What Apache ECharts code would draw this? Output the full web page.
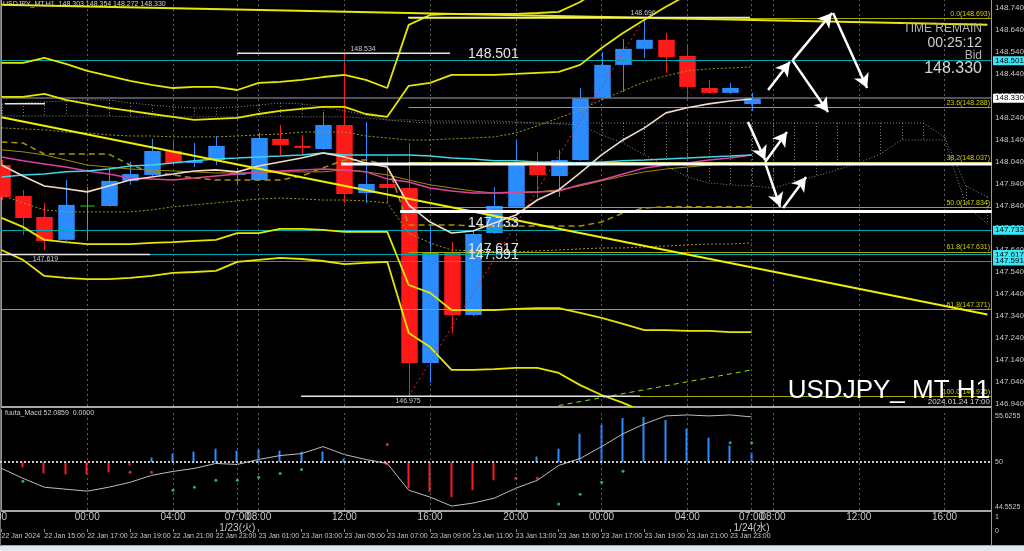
<!DOCTYPE html>
<html><head><meta charset="utf-8">
<script src="https://cdn.jsdelivr.net/npm/echarts@6/dist/echarts.min.js"></script>
<style>html,body{margin:0;padding:0;background:#000;}#c{width:1024px;height:551px;}</style>
</head><body><div id="c"></div>
<script>
// ---------- DATA ----------
// candles: [open, close, low, high], one per hour (index 0 = 22 Jan 13:00 server time)
const candles = [
[148.026,147.881,147.867,148.049],[147.885,147.785,147.708,147.913],[147.790,147.681,147.640,147.854],
[147.686,147.845,147.681,147.958],[147.840,147.840,147.686,147.926],[147.840,147.954,147.836,148.013],
[147.954,147.985,147.936,148.040],[147.981,148.090,147.976,148.145],[148.090,148.035,148.031,148.135],
[148.035,148.045,148.017,148.126],[148.049,148.113,148.026,148.158],[147.981,147.990,147.940,148.013],
[147.958,148.149,147.954,148.172],[148.145,148.117,148.072,148.208],[148.113,148.104,148.072,148.163],
[148.099,148.208,148.095,148.267],[148.208,147.894,147.854,148.534],[147.899,147.940,147.854,148.222],
[147.940,147.922,147.854,148.063],[147.922,147.126,146.975,148.126],[147.126,147.626,147.036,147.754],
[147.626,147.345,147.263,147.676],[147.345,147.713,147.340,147.731],[147.717,147.840,147.713,147.926],
[147.836,148.026,147.831,148.140],[148.022,147.981,147.876,148.086],[147.976,148.049,147.881,148.095],
[148.049,148.331,148.045,148.376],[148.331,148.481,148.326,148.540],[148.481,148.554,148.358,148.599],
[148.554,148.595,148.513,148.696],[148.595,148.517,148.445,148.626],[148.522,148.381,148.322,148.572],
[148.376,148.354,148.349,148.413],[148.354,148.376,148.349,148.399],[148.303,148.330,148.272,148.354]
];
const bandOuterUp = [148.490,148.490,148.513,148.486,148.454,148.431,148.408,148.390,148.376,148.381,148.381,148.367,148.399,148.404,148.413,148.426,148.436,148.413,148.376,148.663,148.708,148.713,148.713,148.713,148.713,148.717,148.722,148.767,148.831,148.913];
const bandInnerUp = [148.336,148.336,148.349,148.322,148.304,148.286,148.272,148.258,148.245,148.231,148.236,148.240,148.258,148.272,148.281,148.290,148.290,148.258,148.245,148.386,148.399,148.436,148.436,148.436,148.440,148.445,148.449,148.481,148.558,148.626,148.686,148.745,148.799,148.845];
const bandInnerLow = [147.786,147.745,147.686,147.676,147.667,147.667,147.667,147.672,147.676,147.681,147.686,147.717,147.717,147.736,147.736,147.731,147.722,147.722,147.722,147.481,147.445,147.367,147.367,147.367,147.372,147.376,147.376,147.354,147.331,147.304,147.276,147.276,147.272,147.272,147.267,147.267];
const bandOuterLow = [147.640,147.595,147.522,147.513,147.508,147.508,147.513,147.522,147.536,147.540,147.545,147.586,147.595,147.604,147.599,147.590,147.576,147.581,147.586,147.263,147.199,147.095,147.095,147.099,147.104,147.104,147.081,147.026,146.981,146.945,146.904,146.876];
const maCyan = [147.972,147.981,147.985,147.995,147.999,148.008,148.022,148.026,148.035,148.045,148.054,148.058,148.063,148.067,148.072,148.081,148.072,148.072,148.072,148.072,148.067,148.058,148.054,148.045,148.045,148.040,148.040,148.035,148.040,148.045,148.049,148.054,148.058,148.063,148.067,148.072];
const maMagenta = [148.063,148.045,148.031,148.017,147.999,147.985,147.967,147.963,147.958,147.967,147.976,147.985,147.995,147.999,148.004,148.008,148.004,147.995,147.963,147.949,147.922,147.908,147.899,147.899,147.904,147.904,147.908,147.936,147.958,147.985,148.013,148.026,148.035,148.049,148.058,148.072];
const maBeige = [148.026,147.976,147.931,147.918,147.904,147.931,147.958,147.972,147.985,147.999,148.004,147.995,148.022,148.040,148.058,148.081,148.063,148.035,148.017,147.845,147.767,147.717,147.726,147.763,147.799,147.867,147.913,147.990,148.072,148.140,148.195,148.263,148.286,148.304,148.317,148.326];
const maOlive = [148.095,148.086,148.072,148.049,148.026,148.017,148.008,148.004,147.999,147.995,147.990,147.990,147.990,147.995,147.995,147.995,148.004,147.995,147.981,147.958,147.936,147.922,147.908,147.899,147.899,147.904,147.913,147.931,147.954,147.976,147.995,148.008,148.017,148.026,148.031,148.035];
const kijun = [148.131,148.126,148.076,148.076,148.076,148.076,148.026,147.995,147.981,147.967,147.958,147.958,147.958,147.958,147.976,148.013,148.049,148.049,148.026,147.754,147.754,147.754,147.749,147.749,147.749,147.749,147.749,147.749,147.767,147.808,147.831,147.836,147.836,147.836,147.836,147.836];
const sigmaUp = [148.195,148.190,148.186,148.176,148.172,148.163,148.158,148.158,148.154,148.154,148.154,148.158,148.163,148.167,148.176,148.176,148.176,148.158,148.149,148.140,148.140,148.145,148.149,148.154,148.172,148.204,148.240,148.276,148.322,148.363,148.404,148.431,148.454,148.463,148.467,148.472];
const sigmaLow = [147.890,147.854,147.822,147.813,147.813,147.813,147.813,147.822,147.836,147.845,147.854,147.863,147.872,147.876,147.872,147.867,147.867,147.863,147.854,147.717,147.672,147.640,147.636,147.631,147.631,147.636,147.640,147.645,147.649,147.649,147.654,147.658,147.663,147.667,147.667,147.672];
const spanA = [148.304,148.308,148.313,148.317,148.322,148.322,148.308,148.299,148.290,148.286,148.286,148.290,148.299,148.308,148.304,148.290,148.272,148.254,148.231,148.222,
148.217,148.217,148.217,148.217,148.217,148.217,148.217,148.217,148.217,148.217,148.217,148.217,148.217,148.217,148.217,148.217,148.217,148.217,148.217,148.217,148.217,148.217,148.217,148.217,148.154,147.931,147.881];
const spanB = [148.249,148.249,148.249,148.249,148.249,148.249,148.245,148.245,148.245,148.245,148.245,148.245,148.245,148.245,148.245,148.245,148.245,148.240,148.231,148.231,
148.226,148.226,148.226,148.226,148.222,148.217,148.213,148.208,148.163,148.126,148.072,148.022,147.972,147.945,147.936,147.931,147.922,147.949,147.976,148.004,148.035,148.076,148.140,148.140,148.140,147.845,147.758];
// trend lines: [startIdx, startPrice, endIdx, endPrice]
const trendDown = [0, 148.243, 46, 147.347];
const trendTop = [0, 148.754, 46, 148.663];
const fibDiag = [19, 146.975, 30, 148.693];
const greenDash = [26, 146.933, 35, 147.095];
// horizontal levels
const cyanLevels = [148.501, 147.733, 147.617, 147.591];
const bidLevel = 148.330;
const fibLevels = [148.693, 148.288, 148.037, 147.834, 147.631, 146.975];
const fibNames = ['0.0', '23.6', '38.2', '50.0', '61.8', '100.0'];
const fibStartIdx = 19;
const fibExtLevel = 147.371;
const whiteThick = [[15.84, 46.2, 148.031], [18.6, 46.2, 147.815]]; // [fromIdx, toIdx, price]
const whiteThin = [[10.99, 20.93, 148.534], [18.97, 34.93, 148.696], [0.16, 2.03, 148.304], [-0.1, 6.93, 147.619], [13.98, 29.8, 146.975]];
// projection arrows [fromIdx, fromPrice, toIdx, toPrice]
const arrows = [
[35.77,148.367,36.79,148.495],[36.93,148.504,38.75,148.717],[38.80,148.717,40.39,148.376],[36.89,148.504,38.57,148.267],
[34.83,148.222,35.63,148.049],[35.63,148.040,36.65,148.176],[35.63,148.036,36.33,147.836],[36.47,147.831,37.54,147.972]
];
// MACD pane
const macdHist = [null,49.37,48.64,48.52,48.52,48.77,49.61,50.57,51.05,51.29,51.65,51.41,51.53,51.41,51.29,51.29,50.45,50.09,49.61,46.84,46.36,45.76,46.60,47.80,49.85,50.69,51.65,53.46,54.54,55.38,55.51,55.14,54.06,52.98,52.01,51.17];
const macdSignal = [49.25,48.04,46.96,46.72,46.48,46.96,47.56,48.40,48.88,49.25,49.85,49.73,50.33,50.81,51.05,51.90,50.93,50.33,49.85,46.60,45.76,44.67,45.03,45.64,46.84,47.80,49.61,50.45,51.90,53.46,54.66,55.63,55.75,55.63,55.75,55.51];
const cyanDots = [[1,47.68],[8,46.60],[9,46.96],[10,47.80],[11,47.80],[12,48.16],[13,48.64],[14,49.13],[26,44.92],[27,46.12],[28,47.56],[29,48.89],[34,52.38],[35,52.38]];
const pinkDots = [[6,48.77],[7,48.77],[18,52.14],[24,48.04],[25,48.04]];
const macdBase = 50;
const macdTicks = [44.5525, 50, 55.6255];
// axis ticks
const priceTicks = [146.94,147.04,147.14,147.24,147.34,147.44,147.54,147.64,147.74,147.84,147.94,148.04,148.14,148.24,148.34,148.44,148.54,148.64,148.74];
const timeTickIdx = [0,4,8,11,12,16,20,24,28,32,35,36,40,44];
const timeTickText = ['00','00:00','04:00','07:00\n1/23(火)','08:00','12:00','16:00','20:00','00:00','04:00','07:00\n1/24(水)','08:00','12:00','16:00'];
const dateTickIdx = [0,2,4,6,8,10,12,14,16,18,20,22,24,26,28,30,32,34];
const dateTickText = ['22 Jan 2024','22 Jan 15:00','22 Jan 17:00','22 Jan 19:00','22 Jan 21:00','22 Jan 23:00','23 Jan 01:00','23 Jan 03:00','23 Jan 05:00','23 Jan 07:00','23 Jan 09:00','23 Jan 11:00','23 Jan 13:00','23 Jan 15:00','23 Jan 17:00','23 Jan 19:00','23 Jan 21:00','23 Jan 23:00'];
// text labels anchored to data: [idx, price, text]
const smallLabelsAbove = [[16.87, 148.534, '148.534'], [29.94, 148.696, '148.696']];
const smallLabelsBelow = [[18.97, 146.975, '146.975'], [2.05, 147.619, '147.619']];
const bigLabels = [[21.77, 148.501, '148.501'], [21.77, 147.733, '147.733'], [21.77, 147.617, '147.617'], [21.77, 147.591, '147.591']];
const header = 'USDJPY_MT,H1  148.303 148.354 148.272 148.330';
const macdHeader = 'fuuta_Macd 52.0859  0.0000';

// ---------- CHART ----------
const X_MIN = -0.07, X_MAX = 46.17;
const BLUE = '#2a8cff', RED = '#ff1a1a', GREEN = '#22cc22';
const chart = echarts.init(document.getElementById('c'));
const ser = (arr) => arr.map((v, i) => [i, v]);
const seg = (a) => [[a[0], a[1]], [a[2], a[3]]];
const lineS = (data, color, width, type, z) => ({
  type: 'line', xAxisIndex: 0, yAxisIndex: 0, data, showSymbol: false, symbol: 'none', silent: true,
  lineStyle: { color, width, type: type || 'solid' }, z: z || 3, clip: true, animation: false
});

const series = [];
// cloud hatch
series.push({
  type: 'custom', xAxisIndex: 0, yAxisIndex: 0, z: 1, clip: true, silent: true,
  data: spanA.map((a, i) => [i, a, spanB[i]]),
  renderItem: (p, api) => {
    const i = api.value(0);
    const p1 = api.coord([i, api.value(1)]), p2 = api.coord([i, api.value(2)]);
    return { type: 'line', shape: { x1: Math.round(p1[0]) + 0.5, y1: p1[1], x2: Math.round(p1[0]) + 0.5, y2: p2[1] },
      style: { stroke: '#7a7a7a', lineWidth: 1, lineDash: [1, 2] } };
  }
});
series.push(lineS(ser(spanA), '#8a8a8a', 1, [1, 2], 1));
series.push(lineS(ser(spanB), '#8a8a8a', 1, [1, 2], 1));

// vertical grid lines main pane + fib + horizontal levels via markLine
const vgridLines = timeTickIdx.slice(1).map(v => ({ xAxis: v }));
const fibMark = fibLevels.map((lv, k) => [
  { coord: [fibStartIdx, lv], lineStyle: { color: '#a8a800', width: 1, type: 'solid' },
    label: { show: true, position: 'insideEndTop', formatter: fibNames[k] + '(' + lv.toFixed(3) + ')', color: '#d0d000', fontSize: 7, distance: 1 } },
  { coord: [X_MAX, lv] }
]);
const levelMark = cyanLevels.map(lv => ({
  yAxis: lv, lineStyle: { color: '#00a8b4', width: 1, type: 'solid' },
  label: { show: true, position: 'end', formatter: lv.toFixed(3), color: '#000', backgroundColor: '#3be6f5', fontSize: 8, padding: [1, 2, 0, 2], distance: 2 }
}));
levelMark.push({ yAxis: bidLevel, lineStyle: { color: '#6c6c7c', width: 1.5, type: 'solid' },
  label: { show: true, position: 'end', formatter: bidLevel.toFixed(3), color: '#000', backgroundColor: '#ffffff', fontSize: 8, padding: [1, 2, 0, 2], distance: 2 } });
levelMark.push({ yAxis: fibExtLevel, lineStyle: { color: '#a8a800', width: 1, type: 'solid' },
  label: { show: true, position: 'insideEndTop', formatter: '61.8(' + fibExtLevel.toFixed(3) + ')', color: '#d0d000', fontSize: 7, distance: 1 } });

series.push({
  type: 'line', xAxisIndex: 0, yAxisIndex: 0, data: [[0, 148]], showSymbol: false, silent: true, lineStyle: { opacity: 0 }, z: 2,
  markLine: { silent: true, symbol: 'none', animation: false, z: 2,
    data: vgridLines.map(d => Object.assign({}, d, { lineStyle: { color: '#5c5c5c', width: 1, type: [2, 3] }, label: { show: false } })) }
});
series.push({
  type: 'line', xAxisIndex: 0, yAxisIndex: 0, data: [[0, 148]], showSymbol: false, silent: true, lineStyle: { opacity: 0 }, z: 3,
  markLine: { silent: true, symbol: 'none', animation: false, z: 3, data: fibMark.concat(levelMark) }
});

// candles
series.push({
  type: 'custom', xAxisIndex: 0, yAxisIndex: 0, z: 2, clip: true, silent: true,
  data: candles.map((c, i) => [i, c[0], c[1], c[2], c[3]]),
  renderItem: (p, api) => {
    const i = api.value(0), o = api.value(1), c = api.value(2), l = api.value(3), h = api.value(4);
    const po = api.coord([i, o]), pc = api.coord([i, c]), pl = api.coord([i, l]), ph = api.coord([i, h]);
    const w = api.size([1, 0])[0] * 0.77;
    const col = c > o ? BLUE : (c < o ? RED : GREEN);
    const x = Math.round(po[0]) + 0.5;
    const top = Math.min(po[1], pc[1]), bot = Math.max(po[1], pc[1]);
    const children = [{ type: 'line', shape: { x1: x, y1: ph[1], x2: x, y2: pl[1] }, style: { stroke: col, lineWidth: 1 } }];
    if (c === o) children.push({ type: 'line', shape: { x1: x - w / 2 + 1, y1: po[1], x2: x + w / 2 - 1, y2: po[1] }, style: { stroke: col, lineWidth: 1 } });
    else children.push({ type: 'rect', shape: { x: x - w / 2, y: top, width: w, height: Math.max(bot - top, 2) }, style: { fill: col } });
    return { type: 'group', children };
  }
});

// indicators
series.push(lineS(ser(sigmaUp), '#a49a1c', 1, [2, 2], 3));
series.push(lineS(ser(sigmaLow), '#a49a1c', 1, [2, 2], 3));
series.push(lineS(ser(kijun), '#a89400', 1.5, [6, 4], 3));
series.push(lineS(ser(maOlive), '#a08c00', 1, 'solid', 3));
series.push(lineS(ser(maMagenta), '#e0409e', 1.5, 'solid', 4));
series.push(lineS(ser(maCyan), '#3fd6e6', 1.5, 'solid', 4));
series.push(lineS(ser(maBeige), '#f0dcc8', 1.6, 'solid', 4));
series.push(lineS(ser(bandOuterUp), '#e6e600', 1.8, 'solid', 4));
series.push(lineS(ser(bandInnerUp), '#e6e600', 1.8, 'solid', 4));
series.push(lineS(ser(bandInnerLow), '#e6e600', 1.8, 'solid', 4));
series.push(lineS(ser(bandOuterLow), '#e6e600', 1.8, 'solid', 4));
series.push(lineS(seg(trendDown), '#f0f000', 2, 'solid', 4));
series.push(lineS(seg(trendTop), '#e8e800', 2, 'solid', 4));
series.push(lineS(seg(fibDiag), '#ff2020', 1, [2, 3], 4));
series.push(lineS(seg(greenDash), '#8ee000', 1, [5, 4], 4));
whiteThick.forEach(w => series.push(lineS([[w[0], w[2]], [w[1], w[2]]], '#ffffff', 3, 'solid', 5)));
whiteThin.forEach(w => series.push(lineS([[w[0], w[2]], [w[1], w[2]]], '#e6e6e6', 1.5, 'solid', 5)));

// arrows
series.push({
  type: 'line', xAxisIndex: 0, yAxisIndex: 0, data: [[0, 148]], showSymbol: false, silent: true, lineStyle: { opacity: 0 }, z: 6,
  markLine: { silent: true, animation: false, symbol: ['none', 'arrow'], symbolSize: [12, 14], z: 6,
    lineStyle: { color: '#ffffff', width: 2.5, type: 'solid' }, label: { show: false },
    data: arrows.map(a => [{ coord: [a[0], a[1]] }, { coord: [a[2], a[3]] }]) }
});

// text labels
const textSeries = (data, font, color, align, vAlign, dy) => ({
  type: 'custom', xAxisIndex: 0, yAxisIndex: 0, z: 7, silent: true, data,
  renderItem: (p, api) => {
    const pt = api.coord([api.value(0), api.value(1)]);
    const d = data[p.dataIndex];
    return { type: 'text', x: pt[0], y: pt[1] + dy,
      style: { text: d[2], font, fill: color, align, verticalAlign: vAlign, textAlign: align, textVerticalAlign: vAlign } };
  }
});
series.push(textSeries(smallLabelsAbove, '7px "Liberation Sans", Arial, sans-serif', '#c8c8c8', 'center', 'bottom', -1));
series.push(textSeries(smallLabelsBelow, '7px "Liberation Sans", Arial, sans-serif', '#c8c8c8', 'center', 'top', 1));
series.push(textSeries(bigLabels, '14px "Liberation Sans", Arial, sans-serif', '#e4e4e4', 'left', 'bottom', 1));

// MACD pane
series.push({
  type: 'custom', xAxisIndex: 1, yAxisIndex: 1, z: 3, silent: true, clip: true,
  data: macdHist.map((v, i) => [i, v]).filter(d => d[1] != null),
  renderItem: (p, api) => {
    const i = api.value(0), v = api.value(1);
    const p0 = api.coord([i, macdBase]), p1 = api.coord([i, v]);
    const x = Math.round(p0[0]) - 0.5;
    return { type: 'line', shape: { x1: x, y1: p0[1], x2: x, y2: p1[1] }, style: { stroke: v >= macdBase ? BLUE : RED, lineWidth: 2 } };
  }
});
series.push({
  type: 'line', xAxisIndex: 1, yAxisIndex: 1, data: ser(macdSignal), showSymbol: false, symbol: 'none', silent: true, z: 4,
  lineStyle: { color: '#bdbdbd', width: 1 },
  markLine: { silent: true, symbol: 'none', animation: false, label: { show: false },
    data: [{ yAxis: macdBase, lineStyle: { color: '#c8c8c8', width: 2, type: [2, 2] } }]
      .concat(vgridLines.map(d => Object.assign({}, d, { lineStyle: { color: '#5c5c5c', width: 1, type: [2, 3] } }))) }
});
series.push({ type: 'scatter', xAxisIndex: 1, yAxisIndex: 1, data: cyanDots, symbolSize: 3, itemStyle: { color: '#2ad0d0' }, silent: true, z: 5 });
series.push({ type: 'scatter', xAxisIndex: 1, yAxisIndex: 1, data: pinkDots, symbolSize: 3, itemStyle: { color: '#e0407a' }, silent: true, z: 5 });

const lblFont = '"Liberation Sans", Arial, "Noto Sans CJK JP", sans-serif';
const option = {
  backgroundColor: '#000000',
  animation: false,
  grid: [
    { left: 0, top: 0, width: 991, height: 406, containLabel: false, outerBoundsMode: 'none' },
    { left: 0, top: 410, width: 991, height: 100, containLabel: false, outerBoundsMode: 'none' }
  ],
  xAxis: [
    { type: 'value', gridIndex: 0, min: X_MIN, max: X_MAX, show: false, splitLine: { show: false } },
    { type: 'value', gridIndex: 1, min: X_MIN, max: X_MAX, position: 'bottom',
      axisLine: { show: false }, axisTick: { show: false }, splitLine: { show: false },
      axisLabel: { customValues: timeTickIdx, formatter: v => timeTickText[timeTickIdx.indexOf(v)] || '',
        color: '#c8c8c8', fontSize: 10, margin: 2, lineHeight: 11, fontFamily: lblFont } },
    { type: 'value', gridIndex: 1, min: X_MIN, max: X_MAX, position: 'bottom', offset: 22,
      axisLine: { show: false }, splitLine: { show: false },
      axisTick: { show: true, customValues: dateTickIdx, length: 3, inside: true, lineStyle: { color: '#8a8a8a' } },
      axisLabel: { customValues: dateTickIdx, formatter: v => dateTickText[dateTickIdx.indexOf(v)] || '',
        color: '#c8c8c8', fontSize: 7, margin: 1, align: 'left', fontFamily: lblFont } }
  ],
  yAxis: [
    { type: 'value', gridIndex: 0, min: 146.931, max: 148.776, position: 'right',
      axisLine: { show: true, lineStyle: { color: '#9a9a9a', width: 1 } }, axisTick: { show: false }, splitLine: { show: false },
      axisLabel: { customValues: priceTicks, formatter: v => v.toFixed(3), color: '#c8c8c8', fontSize: 8, margin: 4, fontFamily: lblFont } },
    { type: 'value', gridIndex: 1, min: 44.19, max: 56.35, position: 'right',
      axisLine: { show: true, lineStyle: { color: '#9a9a9a', width: 1 } }, axisTick: { show: false }, splitLine: { show: false },
      axisLabel: { customValues: macdTicks, formatter: v => (v === 50 ? '50' : v.toFixed(4)), color: '#c8c8c8', fontSize: 7, margin: 4, fontFamily: lblFont } }
  ],
  graphic: [
    { type: 'line', shape: { x1: 0, y1: 407, x2: 991, y2: 407 }, style: { stroke: '#a8a8a8', lineWidth: 2 }, silent: true },
    { type: 'line', shape: { x1: 0, y1: 511, x2: 991, y2: 511 }, style: { stroke: '#a8a8a8', lineWidth: 2 }, silent: true },
    { type: 'line', shape: { x1: 0, y1: 545.5, x2: 1024, y2: 545.5 }, style: { stroke: '#a8a8a8', lineWidth: 1 }, silent: true },
    { type: 'line', shape: { x1: 991.5, y1: 0, x2: 991.5, y2: 546 }, style: { stroke: '#9a9a9a', lineWidth: 1 }, silent: true },
    { type: 'line', shape: { x1: 0.5, y1: 0, x2: 0.5, y2: 546 }, style: { stroke: '#707070', lineWidth: 1 }, silent: true },
    { type: 'rect', shape: { x: 0, y: 546, width: 1024, height: 5 }, style: { fill: '#dfe7ef' }, silent: true },
    { type: 'text', x: 3, y: 1, style: { text: header, font: '7px "Liberation Sans", Arial, sans-serif', fill: '#d0d0d0' }, silent: true, z: 10 },
    { type: 'text', x: 5, y: 410, style: { text: macdHeader, font: '7px "Liberation Sans", Arial, sans-serif', fill: '#d0d0d0' }, silent: true, z: 10 },
    { type: 'text', x: 982, y: 29, style: { text: 'TIME REMAIN', font: '12px "Liberation Sans", Arial, sans-serif', fill: '#b4b4b4', align: 'right', verticalAlign: 'middle' }, silent: true, z: 10 },
    { type: 'text', x: 982, y: 43, style: { text: '00:25:12', font: '14px "Liberation Sans", Arial, sans-serif', fill: '#cfcfcf', align: 'right', verticalAlign: 'middle' }, silent: true, z: 10 },
    { type: 'text', x: 982, y: 56, style: { text: 'Bid', font: '12px "Liberation Sans", Arial, sans-serif', fill: '#b4b4b4', align: 'right', verticalAlign: 'middle' }, silent: true, z: 10 },
    { type: 'text', x: 982, y: 69, style: { text: '148.330', font: '16px "Liberation Sans", Arial, sans-serif', fill: '#d6d6d6', align: 'right', verticalAlign: 'middle' }, silent: true, z: 10 },
    { type: 'text', x: 990, y: 391, style: { text: 'USDJPY_ MT H1', font: '26px "Liberation Sans", Arial, sans-serif', fill: '#ffffff', align: 'right', verticalAlign: 'middle' }, silent: true, z: 10 },
    { type: 'text', x: 990, y: 402, style: { text: '2024.01.24 17:00', font: '8px "Liberation Sans", Arial, sans-serif', fill: '#d6d6d6', align: 'right', verticalAlign: 'middle' }, silent: true, z: 11 },
    { type: 'text', x: 995, y: 517, style: { text: '1', font: '7px "Liberation Sans", Arial, sans-serif', fill: '#c8c8c8', verticalAlign: 'middle' }, silent: true },
    { type: 'text', x: 995, y: 531, style: { text: '0', font: '7px "Liberation Sans", Arial, sans-serif', fill: '#c8c8c8', verticalAlign: 'middle' }, silent: true }
  ],
  series
};
chart.setOption(option);
</script>
</body></html>
